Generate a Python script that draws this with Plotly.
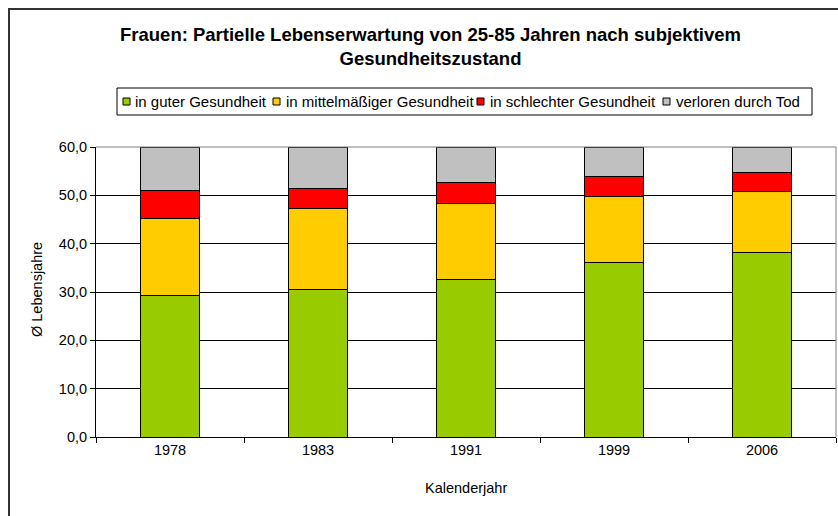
import plotly.graph_objects as go

years = ["1978", "1983", "1991", "1999", "2006"]
guter = [29.2, 30.5, 32.6, 36.1, 38.1]
mittel = [16.0, 16.7, 15.8, 13.7, 12.6]
schlecht = [5.7, 4.3, 4.3, 4.1, 4.0]
tod = [9.1, 8.5, 7.3, 6.1, 5.3]

series_names = ["in guter Gesundheit", "in mittelmäßiger Gesundheit",
                "in schlechter Gesundheit", "verloren durch Tod"]
series_vals = [guter, mittel, schlecht, tod]
series_colors = ["#99CC00", "#FFCC00", "#FF0000", "#C0C0C0"]

y_tickvals = [0, 10, 20, 30, 40, 50, 60]
y_ticktext = ["0,0", "10,0", "20,0", "30,0", "40,0", "50,0", "60,0"]

FONT = "Liberation Sans, Arial, sans-serif"

# plot area in pixels (layout geometry)
PL, PR, PT, PB = 96, 836, 147, 437


def px(x):
    return (x - PL) / (PR - PL)


def py(y):
    return (PB - y) / (PB - PT)


fig = go.Figure()
for name, vals, col in zip(series_names, series_vals, series_colors):
    fig.add_trace(go.Bar(x=years, y=vals, name=name, showlegend=False,
                         marker=dict(color=col, line=dict(color="black", width=1))))

annotations = [
    dict(text="<b>Frauen: Partielle Lebenserwartung von 25-85 Jahren nach subjektivem<br>Gesundheitszustand</b>",
         xref="paper", yref="paper", x=px(430), y=py(46), xanchor="center", yanchor="middle",
         showarrow=False, font=dict(size=18.5, family=FONT), align="center"),
    dict(text="Ø Lebensjahre", xref="paper", yref="paper", x=px(37), y=py(290),
         textangle=-90, showarrow=False, xanchor="center", yanchor="middle", font=dict(size=14.5)),
    dict(text="Kalenderjahr", xref="paper", yref="paper", x=px(466), y=py(488),
         showarrow=False, xanchor="center", yanchor="middle", font=dict(size=14.5)),
]
shapes = [
    dict(type="rect", xref="paper", yref="paper", x0=px(9), x1=px(845),
         y0=py(525), y1=py(9), line=dict(color="#333333", width=2), layer="below"),
    dict(type="line", xref="paper", yref="paper", x0=0, x1=1, y0=1, y1=1,
         line=dict(color="#808080", width=1)),
    dict(type="line", xref="paper", yref="paper", x0=1, x1=1, y0=0, y1=1,
         line=dict(color="#808080", width=1)),
    # legend box
    dict(type="rect", xref="paper", yref="paper", x0=px(117), x1=px(812),
         y0=py(115), y1=py(88), line=dict(color="black", width=1), fillcolor="white"),
]

# custom legend (single row, like the original)
leg_sq_x = [123, 273, 477, 663]
leg_txt_x = [135, 286, 490, 676]
leg_y = 101.5
for name, col, sx, tx in zip(series_names, series_colors, leg_sq_x, leg_txt_x):
    shapes.append(dict(type="rect", xref="paper", yref="paper", x0=px(sx), x1=px(sx + 7),
                       y0=py(leg_y + 3.5), y1=py(leg_y - 3.5),
                       line=dict(color="black", width=1), fillcolor=col))
    annotations.append(dict(text=name, xref="paper", yref="paper", x=px(tx), y=py(leg_y),
                            xanchor="left", yanchor="middle", showarrow=False,
                            font=dict(size=15), xshift=-2))

fig.update_layout(
    barmode="stack",
    bargap=0.6,
    width=838, height=516,
    margin=dict(l=PL, r=838 - PR, t=PT, b=516 - PB, autoexpand=False),
    paper_bgcolor="white", plot_bgcolor="white",
    font=dict(family=FONT, size=14.5, color="black"),
    showlegend=False,
    annotations=annotations,
    shapes=shapes,
)

fig.update_xaxes(type="category", showline=True, linecolor="black", linewidth=1,
                 ticks="outside", tickson="boundaries", ticklen=5, tickcolor="black",
                 showgrid=False, tickfont=dict(size=14.5))
fig.update_yaxes(range=[0, 60], tickvals=y_tickvals, ticktext=y_ticktext,
                 showline=True, linecolor="black", linewidth=1,
                 ticks="outside", ticklen=5, tickcolor="black",
                 showgrid=True, gridcolor="black", gridwidth=1, zeroline=False,
                 tickfont=dict(size=14.5))

fig.write_html("out.html", config={"displayModeBar": False},
               post_script="document.body.style.margin='0';document.body.style.overflow='hidden';")
